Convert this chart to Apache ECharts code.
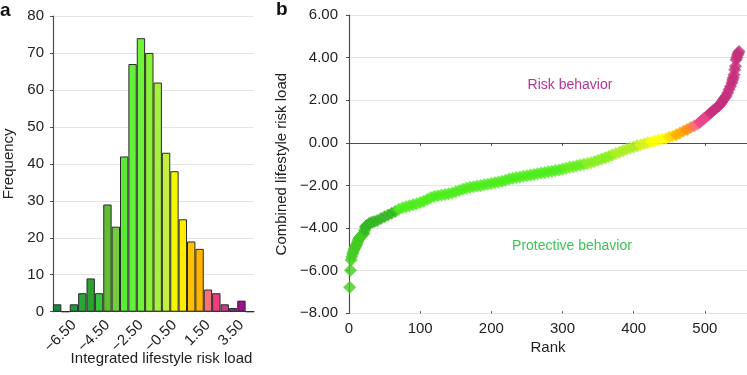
<!DOCTYPE html>
<html>
<head>
<meta charset="utf-8">
<script src="https://cdn.jsdelivr.net/npm/echarts@6.0.0/dist/echarts.min.js"></script>
<style>
  html, body { margin: 0; padding: 0; background: #ffffff; }
  #chart { width: 747px; height: 375px; }
</style>
</head>
<body>
<div id="chart"></div>
<script>
// panel a: histogram of the integrated score
const binLabels = ['−7.50', '−7.00', '−6.50', '−6.00', '−5.50', '−5.00', '−4.50', '−4.00',
  '−3.50', '−3.00', '−2.50', '−2.00', '−1.50', '−1.00', '−0.50', '0.00',
  '0.50', '1.00', '1.50', '2.00', '2.50', '3.00', '3.50', '4.00'];
const binCounts = [2, 0, 2, 5, 9, 5, 29, 23, 42, 67, 74, 70, 62, 43, 38, 25, 19, 17, 6, 5, 2, 1, 3, 0];

// panel b: ranked combined score
const ranks = [1, 2, 3, 4, 5, 6, 7, 8, 9, 10, 11, 12, 13, 14, 15, 16, 17, 18, 19, 20, 21, 22, 23, 24,
  26, 28, 30, 33, 36, 40,
  45, 50, 55, 60, 65, 70, 75, 80, 85, 90, 95, 100, 105, 110, 115, 120, 125, 130, 135, 140,
  145, 150, 155, 160, 165, 170, 175, 180, 185, 190, 195, 200, 205, 210, 215, 220, 225, 230, 235, 240,
  245, 250, 255, 260, 265, 270, 275, 280, 285, 290, 295, 300, 305, 310, 315, 320, 325, 330, 335, 340,
  345, 350, 355, 360, 365, 370, 375, 380, 385, 390, 395, 400, 405, 410, 415, 420, 425, 430, 435, 440,
  445, 450, 455, 460, 465, 470, 475, 480, 485, 490,
  493, 496, 499, 502, 505, 508, 511, 514, 517, 520, 522, 524, 526, 528, 530, 532, 534, 536, 538,
  539, 540, 541, 542, 543, 544, 545, 546, 547, 548];
const scores = [-6.78, -5.98, -5.50, -5.35, -5.22, -5.12, -5.02, -4.95, -4.88, -4.82, -4.75, -4.65, -4.56, -4.50,
  -4.46, -4.42, -4.38, -4.34, -4.30, -4.27, -4.24, -4.10, -3.95, -3.90,
  -3.86, -3.80, -3.76, -3.72, -3.69, -3.64,
  -3.55, -3.47, -3.39, -3.31, -3.22, -3.12, -3.05, -3.00, -2.95, -2.91, -2.86, -2.80, -2.74, -2.66, -2.57, -2.52, -2.48, -2.45, -2.42, -2.39,
  -2.35, -2.30, -2.24, -2.18, -2.13, -2.09, -2.06, -2.03, -2.00, -1.97, -1.94, -1.91, -1.87, -1.84, -1.80, -1.75, -1.70, -1.66, -1.63, -1.60,
  -1.57, -1.54, -1.51, -1.48, -1.45, -1.42, -1.39, -1.36, -1.33, -1.30, -1.27, -1.23, -1.19, -1.15, -1.12, -1.08, -1.04, -1.00, -0.97, -0.93,
  -0.88, -0.82, -0.76, -0.70, -0.64, -0.57, -0.50, -0.44, -0.37, -0.30, -0.24, -0.19, -0.14, -0.09, -0.04, 0.01, 0.05, 0.09, 0.13, 0.17,
  0.22, 0.27, 0.32, 0.38, 0.46, 0.55, 0.63, 0.72, 0.80, 0.88,
  0.97, 1.06, 1.15, 1.23, 1.31, 1.40, 1.49, 1.58, 1.66, 1.74, 1.82, 1.92, 2.02, 2.12, 2.20, 2.34, 2.50, 2.66, 2.82,
  2.95, 3.05, 3.20, 3.43, 3.60, 3.90, 4.00, 4.12, 4.20, 4.29];

const freqTicks = { min: 0, max: 80, step: 10 };
const scoreTicks = { min: -8, max: 6, step: 2 };
const rankTicks = { min: 0, max: 600, step: 100 };

// colours
const barColors = ['#148a42', '#1a9340', '#1e9a3c', '#28a638', '#2ca22e', '#36c43c', '#62bc36', '#74cc40',
  '#58ea36', '#62f23a', '#70f43a', '#8af238', '#a8f03e', '#c4f03c', '#f6f600', '#ffec00',
  '#ffc200', '#ffb400', '#f7707a', '#f03e7c', '#c83c8e', '#8c2a84', '#9c108e', '#9c108e'];
const rankColors = [
  { min: 0, max: 21, color: '#44cc22' },
  { min: 21, max: 68, color: '#34b622' },
  { min: 68, max: 300, color: '#4cec1c' },
  { min: 300, max: 330, color: '#66ee1c' },
  { min: 330, max: 370, color: '#88ef1e' },
  { min: 370, max: 405, color: '#acee20' },
  { min: 405, max: 422, color: '#d8f21a' },
  { min: 422, max: 446, color: '#ffff00' },
  { min: 446, max: 458, color: '#ffd800' },
  { min: 458, max: 470, color: '#ffaa00' },
  { min: 470, max: 481, color: '#ff8c10' },
  { min: 481, max: 492, color: '#ff6a78' },
  { min: 492, max: 505, color: '#e84488' },
  { min: 505, max: 560, color: '#c4307c' }
];

const minus = v => String(v).replace('-', '\u2212');
const txt = '#222222';
const axisCol = '#4d4d4d';
const font = 'Liberation Sans, Arial, Helvetica, sans-serif';

const chart = echarts.init(document.getElementById('chart'));
chart.setOption({
  backgroundColor: '#ffffff',
  textStyle: { fontFamily: font },
  animation: false,
  grid: [
    { left: 53, top: 16, width: 201, bottom: 63.3, containLabel: false, outerBoundsMode: 'none' },
    { left: 349, top: 15, width: 427, bottom: 61.7, containLabel: false, outerBoundsMode: 'none' }
  ],
  xAxis: [
    {
      type: 'category', gridIndex: 0, data: binLabels, boundaryGap: true,
      name: 'Integrated lifestyle risk load', nameLocation: 'middle', nameGap: 40, nameMoveOverlap: false,
      nameTextStyle: { fontSize: 15, color: txt, padding: [0, 0, 0, 16] },
      axisLine: { lineStyle: { color: axisCol, width: 1.2 } },
      axisTick: { interval: 0, length: 3, lineStyle: { color: axisCol } },
      axisLabel: { interval: i => i % 4 === 2, rotate: 45, fontSize: 15, color: txt, margin: 11 },
      splitLine: { show: false }
    },
    {
      type: 'value', gridIndex: 1, position: 'bottom',
      min: rankTicks.min, max: rankTicks.max, interval: rankTicks.step,
      name: 'Rank', nameLocation: 'middle', nameGap: 27, nameMoveOverlap: false,
      nameTextStyle: { fontSize: 15, color: txt, padding: [0, 29, 0, 0] },
      axisLine: { show: false, onZero: false },
      axisTick: { show: false },
      axisLabel: { fontSize: 15, color: txt, margin: 8 },
      splitLine: { show: false }
    },
    {
      type: 'value', gridIndex: 1, position: 'bottom',
      min: rankTicks.min, max: rankTicks.max, interval: rankTicks.step,
      axisLine: { show: true, onZero: true, lineStyle: { color: axisCol, width: 1.2 } },
      axisTick: { show: true, length: 3, lineStyle: { color: axisCol } },
      axisLabel: { show: false },
      splitLine: { show: false }
    },
    {
      type: 'value', gridIndex: 1, position: 'bottom',
      min: rankTicks.min, max: rankTicks.max, interval: rankTicks.step,
      axisLine: { show: false, onZero: true },
      axisTick: { show: true, inside: true, length: 2, lineStyle: { color: axisCol } },
      axisLabel: { show: false },
      splitLine: { show: false }
    }
  ],
  yAxis: [
    {
      type: 'value', gridIndex: 0,
      min: freqTicks.min, max: freqTicks.max, interval: freqTicks.step,
      name: 'Frequency', nameLocation: 'middle', nameGap: 37,
      nameTextStyle: { fontSize: 15, color: txt },
      axisLine: { show: true, lineStyle: { color: axisCol, width: 1.2 } },
      axisTick: { show: true, length: 3, lineStyle: { color: axisCol } },
      axisLabel: { fontSize: 15, color: txt, margin: 9 },
      splitLine: { lineStyle: { color: '#e4e4e4' } }
    },
    {
      type: 'value', gridIndex: 1,
      min: scoreTicks.min, max: scoreTicks.max, interval: scoreTicks.step,
      name: 'Combined lifestyle risk load', nameLocation: 'middle', nameGap: 60,
      nameTextStyle: { fontSize: 15, color: txt },
      axisLine: { show: true, onZero: false, lineStyle: { color: axisCol, width: 1.2 } },
      axisTick: { show: true, length: 3, lineStyle: { color: axisCol } },
      axisLabel: { fontSize: 15, color: txt, margin: 11, formatter: v => minus(v.toFixed(2)) },
      splitLine: { lineStyle: { color: '#e4e4e4' } }
    }
  ],
  visualMap: {
    type: 'piecewise', show: false, seriesIndex: 1, dimension: 0,
    pieces: rankColors
  },
  series: [
    {
      type: 'bar', xAxisIndex: 0, yAxisIndex: 0,
      data: binCounts, barCategoryGap: 0,
      itemStyle: {
        color: p => barColors[p.dataIndex],
        borderColor: '#2b2b2b', borderWidth: 1
      }
    },
    {
      type: 'scatter', xAxisIndex: 1, yAxisIndex: 1,
      symbol: 'diamond', symbolSize: 13,
      data: ranks.map((r, i) => [r, scores[i]])
    }
  ],
  graphic: [
    { type: 'text', left: 0, top: 1, style: { text: 'a', font: 'bold 19px ' + font, fill: '#111' } },
    { type: 'text', left: 276, top: 0, style: { text: 'b', font: 'bold 19px ' + font, fill: '#111' } },
    { type: 'text', x: 570, y: 85, style: { text: 'Risk behavior', font: '14px ' + font, fill: '#b2369a', align: 'center', verticalAlign: 'middle' } },
    { type: 'text', x: 572, y: 246, style: { text: 'Protective behavior', font: '14px ' + font, fill: '#3cc454', align: 'center', verticalAlign: 'middle' } }
  ]
});
</script>
</body>
</html>
